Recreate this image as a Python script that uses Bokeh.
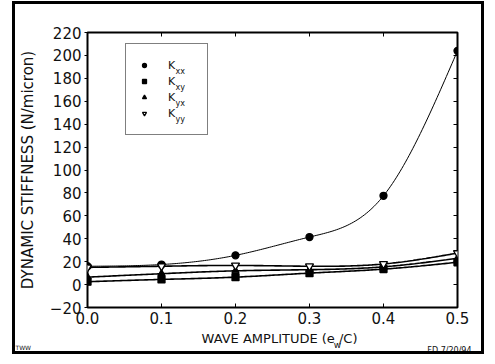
import numpy as np
from bokeh.plotting import figure
from bokeh.models import (Range1d, LinearAxis, FixedTicker, NumeralTickFormatter,
                          Legend, LegendItem, Label)
from bokeh.embed import file_html
from bokeh.resources import INLINE

# ---- data ----
amplitude = [0.0, 0.1, 0.2, 0.3, 0.4, 0.5]
k_xx = [16.0, 17.5, 25.5, 41.5, 77.5, 204.0]
k_xy = [2.5, 4.5, 6.5, 10.0, 13.5, 19.5]
k_yx = [6.5, 9.5, 12.0, 13.0, 15.5, 23.0]
k_yy = [15.0, 16.0, 16.7, 16.0, 18.0, 27.5]
series_names = ["K", "K", "K", "K"]
series_subs = ["xx", "xy", "yx", "yy"]
x_ticks = [0.0, 0.1, 0.2, 0.3, 0.4, 0.5]
y_ticks = [-20, 0, 20, 40, 60, 80, 100, 120, 140, 160, 180, 200, 220]
y_title = "DYNAMIC STIFFNESS (N/micron)"
x_title_main = "WAVE AMPLITUDE (e   /C)"
x_title_sub = "w"
note_left = "TWW"
note_right = "FD 7/20/94"

FONT = "DejaVu Sans"
INK = "#111111"


def natural_spline(xs, ys, n=200):
    """Smooth curve through the points (natural cubic spline) for drawing."""
    xs = np.asarray(xs, float)
    ys = np.asarray(ys, float)
    m = len(xs)
    h = np.diff(xs)
    A = np.zeros((m, m))
    b = np.zeros(m)
    A[0, 0] = A[-1, -1] = 1.0
    for i in range(1, m - 1):
        A[i, i - 1] = h[i - 1]
        A[i, i] = 2 * (h[i - 1] + h[i])
        A[i, i + 1] = h[i]
        b[i] = 6 * ((ys[i + 1] - ys[i]) / h[i] - (ys[i] - ys[i - 1]) / h[i - 1])
    M = np.linalg.solve(A, b)
    xx = np.linspace(xs[0], xs[-1], n)
    idx = np.clip(np.searchsorted(xs, xx) - 1, 0, m - 2)
    x0, x1 = xs[idx], xs[idx + 1]
    hh = x1 - x0
    t0, t1 = x1 - xx, xx - x0
    yy = (M[idx] * t0 ** 3 / (6 * hh) + M[idx + 1] * t1 ** 3 / (6 * hh)
          + (ys[idx] / hh - M[idx] * hh / 6) * t0
          + (ys[idx + 1] / hh - M[idx + 1] * hh / 6) * t1)
    return xx.tolist(), yy.tolist()


p = figure(width=472, height=353, output_backend="svg", toolbar_location=None,
           x_range=Range1d(0.0, 0.5), y_range=Range1d(-20, 220),
           min_border_left=71, min_border_right=30, min_border_top=28,
           min_border_bottom=50, x_axis_location=None, y_axis_location=None)
p.styles = {"border": "3px solid black", "margin-left": "12px", "margin-top": "1px"}
p.grid.visible = False
p.outline_line_color = "black"
p.outline_line_width = 2
p.outline_line_alpha = 1.0
p.background_fill_color = "white"
p.border_fill_color = "white"

# axes
left = LinearAxis(ticker=FixedTicker(ticks=y_ticks))
left.axis_label = y_title
left.axis_label_text_font = FONT
left.axis_label_text_font_size = "15px"
left.axis_label_text_font_style = "normal"
left.axis_label_text_color = INK
left.axis_label_standoff = 10
left.major_label_text_font = FONT
left.major_label_text_font_size = "15px"
left.major_label_text_color = INK
left.major_label_standoff = 3
left.major_tick_out = 3
left.major_tick_in = 0
left.major_tick_line_color = "black"
left.minor_tick_line_color = None
left.axis_line_color = None
p.add_layout(left, "left")

bottom = LinearAxis(ticker=FixedTicker(ticks=x_ticks),
                    formatter=NumeralTickFormatter(format="0.0"))
bottom.major_label_text_font = FONT
bottom.major_label_text_font_size = "15px"
bottom.major_label_text_color = INK
bottom.major_label_standoff = 4
bottom.major_tick_out = 0
bottom.major_tick_in = 4
bottom.major_tick_line_color = "black"
bottom.minor_tick_line_color = None
bottom.axis_line_color = None
p.add_layout(bottom, "below")

right = LinearAxis(ticker=FixedTicker(ticks=y_ticks))
right.major_label_text_font_size = "2px"
right.major_label_text_color = None
right.major_label_standoff = 0
right.major_tick_in = 4
right.major_tick_out = 0
right.major_tick_line_color = "black"
right.minor_tick_line_color = None
right.axis_line_color = None
p.add_layout(right, "right")

top = LinearAxis(ticker=FixedTicker(ticks=x_ticks))
top.major_label_text_font_size = "2px"
top.major_label_text_color = None
top.major_label_standoff = 0
top.major_tick_in = 4
top.major_tick_out = 0
top.major_tick_line_color = "black"
top.minor_tick_line_color = None
top.axis_line_color = None
p.add_layout(top, "above")

# curves and markers
series = [k_xx, k_xy, k_yx, k_yy]
markers = ["circle", "square", "triangle", "inverted_triangle"]
fills = ["black", "black", "black", "white"]
sizes = [7, 7, 7, 8]
items = []
for ys, mk, fc, sz, nm in zip(series, markers, fills, sizes, series_names):
    cx, cy = natural_spline(amplitude, ys)
    lw = 1.0 if ys is k_xx else 1.6
    p.line(cx, cy, line_color="black", line_width=lw)
    r = p.scatter(amplitude, ys, marker=mk, size=sz, fill_color=fc,
                  line_color="black", line_width=1.3)
    items.append(LegendItem(label=nm, renderers=[r]))

legend = Legend(items=items, location=(38, 172), orientation="vertical",
                padding=13, spacing=0, margin=0,
                glyph_width=10, glyph_height=16, label_height=16, label_width=26,
                label_standoff=19, label_text_font=FONT,
                label_text_font_size="11px", label_text_color=INK,
                border_line_color="black", border_line_width=1.2,
                background_fill_alpha=0.0)
p.add_layout(legend, "center")


def make_label(**kw):
    return Label(x_units="screen", y_units="screen", text_font=FONT,
                 text_color=INK, **kw)


# subscripts for the legend labels (inside the frame)
sub_baselines = [236, 220, 204, 188]
for sub, yy in zip(series_subs, sub_baselines):
    p.add_layout(make_label(x=88, y=yy, text=sub, text_font_size="8px",
                            text_baseline="alphabetic"))

# x-axis title (below the axis) and its subscript (placed from the top panel)
p.add_layout(make_label(x=114, y=3, text=x_title_main, text_font_size="13px",
                        text_baseline="middle"), "below")
p.add_layout(make_label(x=250, y=-312, text=x_title_sub, text_font_size="9px",
                        text_align="center", text_baseline="middle"), "above")
# corner notes
p.add_layout(make_label(x=384, y=0, text=note_right, text_font_size="8px",
                        text_align="right", text_baseline="middle"), "below")
p.add_layout(make_label(x=-442, y=-40, text=note_left, text_font_size="6px",
                        text_baseline="middle"), "right")

open("out.html", "w").write(file_html(p, INLINE))
